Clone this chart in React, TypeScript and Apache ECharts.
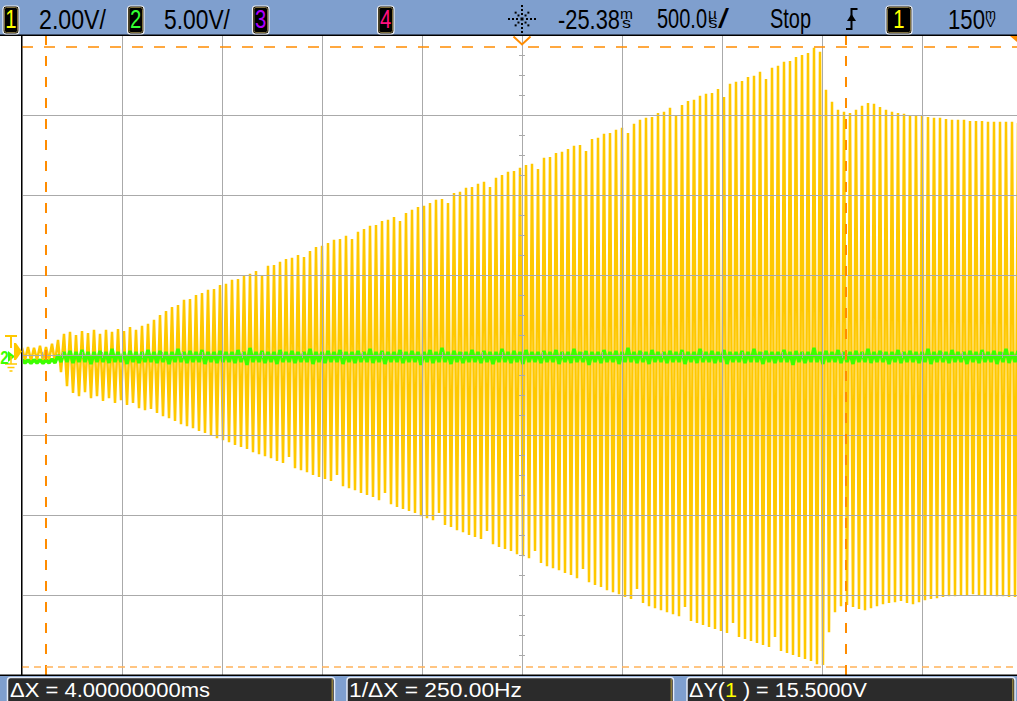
import React, { useEffect, useRef } from "react";
import * as echarts from "echarts";

// ---------------- data ----------------
// Channel 1 (2 V/div): one oscillation per sample step, peak (high) and trough (low) in volts
const ch1StartMs = -2.5;
const ch1StepMs = 0.03;
const ch1High = [
  0.18, 0.2, 0.18, 0.23, 0.2, 0.28, 0.38, 0.53, 0.58, 0.5,
  0.6, 0.55, 0.63, 0.53, 0.63, 0.58, 0.65, 0.6, 0.7, 0.63,
  0.73, 0.78, 0.88, 1.0, 1.1, 1.2, 1.25, 1.38, 1.4, 1.5,
  1.55, 1.63, 1.65, 1.75, 1.78, 1.88, 1.9, 1.98, 2.03, 2.1,
  2.0, 2.23, 2.25, 2.33, 2.4, 2.43, 2.5, 2.45, 2.6, 2.7,
  2.73, 2.8, 2.88, 2.9, 2.98, 2.9, 3.08, 3.15, 3.23, 3.25,
  3.35, 3.38, 3.45, 3.35, 3.55, 3.63, 3.7, 3.73, 3.8, 3.88,
  3.9, 3.8, 4.05, 4.08, 4.18, 4.2, 4.28, 4.33, 4.2, 4.43,
  4.5, 4.58, 4.6, 4.68, 4.75, 4.78, 4.65, 4.93, 4.95, 5.05,
  5.08, 5.15, 5.23, 5.25, 5.1, 5.4, 5.43, 5.53, 5.55, 5.63,
  5.68, 5.55, 5.78, 5.88, 5.93, 5.95, 6.05, 6.08, 6.18, 6.0,
  6.25, 6.35, 6.38, 6.48, 6.53, 6.55, 6.65, 6.45, 6.78, 6.83,
  6.85, 6.95, 6.98, 7.08, 6.9, 7.18, 7.23, 7.33, 7.35, 7.45,
  7.5, 7.55, 7.68, 7.58, 6.63, 6.33, 6.13, 6.08, 6.05, 6.13,
  6.23, 6.3, 6.28, 6.2, 6.13, 6.08, 6.05, 6.03, 6.0, 5.98,
  5.98, 5.95, 5.93, 5.93, 5.9, 5.88, 5.88, 5.88, 5.85, 5.85,
  5.85, 5.83, 5.83, 5.83, 5.83, 5.83, 5.8,
];
const ch1Low = [
  -0.13, -0.15, -0.13, -0.15, -0.13, -0.2, -0.43, -0.78, -0.95, -1.03,
  -0.93, -1.08, -1.03, -1.15, -1.08, -1.2, -1.13, -1.25, -1.2, -1.33,
  -1.38, -1.35, -1.45, -1.53, -1.58, -1.65, -1.73, -1.78, -1.83, -1.9,
  -1.95, -2.0, -2.08, -2.13, -2.18, -2.25, -2.3, -2.35, -2.43, -2.48,
  -2.53, -2.58, -2.65, -2.7, -2.55, -2.83, -2.88, -2.93, -3.0, -3.05,
  -3.1, -3.15, -3.0, -3.28, -3.33, -3.38, -3.45, -3.5, -3.55, -3.63,
  -3.45, -3.73, -3.8, -3.85, -3.9, -3.95, -4.03, -4.08, -4.13, -3.95,
  -4.25, -4.3, -4.38, -4.43, -4.5, -4.55, -4.6, -4.4, -4.73, -4.8,
  -4.85, -4.9, -4.98, -5.03, -5.08, -4.9, -5.2, -5.28, -5.33, -5.38,
  -5.45, -5.5, -5.58, -5.35, -5.68, -5.75, -5.8, -5.88, -5.93, -5.98,
  -6.05, -6.1, -5.85, -6.2, -6.28, -6.33, -6.38, -6.43, -6.48, -6.53,
  -6.3, -6.65, -6.7, -6.75, -6.8, -6.85, -6.9, -6.95, -6.7, -7.05,
  -7.1, -7.15, -7.2, -7.25, -7.3, -7.05, -7.4, -7.45, -7.5, -7.55,
  -7.6, -7.65, -7.73, -7.75, -6.93, -6.43, -6.28, -6.25, -6.3, -6.35,
  -6.38, -6.33, -6.28, -6.23, -6.2, -6.18, -6.15, -6.2, -6.23, -6.18,
  -6.13, -6.1, -6.08, -6.05, -6.03, -6.03, -6.0, -6.0, -5.98, -6.0,
  -6.0, -6.0, -6.03, -6.03, -6.05, -6.05, -6.05,
];

// Channel 2 (5 V/div): flat noisy trace
const ch2StartMs = -2.5;
const ch2StepMs = 0.03;
const ch2High = [
  -0.3, -0.31, -0.3, -0.3, -0.31, -0.25, 0.0, 0.19, 0.25, 0.19,
  0.31, 0.19, 0.19, 0.25, 0.19, 0.38, 0.19, 0.19, 0.25, 0.19,
  0.19, 0.31, 0.19, 0.25, 0.19, 0.19, 0.38, 0.19, 0.25, 0.19,
  0.31, 0.19, 0.19, 0.25, 0.19, 0.19, 0.31, 0.19, 0.44, 0.19,
  0.25, 0.19, 0.19, 0.31, 0.19, 0.25, 0.19, 0.19, 0.38, 0.19,
  0.19, 0.25, 0.19, 0.31, 0.19, 0.19, 0.25, 0.19, 0.38, 0.19,
  0.25, 0.19, 0.19, 0.31, 0.19, 0.25, 0.19, 0.19, 0.31, 0.19,
  0.44, 0.19, 0.25, 0.19, 0.19, 0.31, 0.19, 0.25, 0.19, 0.19,
  0.38, 0.19, 0.25, 0.19, 0.31, 0.19, 0.19, 0.25, 0.19, 0.31,
  0.19, 0.19, 0.38, 0.19, 0.25, 0.19, 0.19, 0.31, 0.19, 0.25,
  0.19, 0.44, 0.19, 0.25, 0.19, 0.31, 0.19, 0.19, 0.25, 0.19,
  0.31, 0.19, 0.19, 0.38, 0.19, 0.25, 0.19, 0.31, 0.19, 0.19,
  0.25, 0.19, 0.38, 0.19, 0.25, 0.19, 0.19, 0.31, 0.19, 0.25,
  0.19, 0.19, 0.44, 0.19, 0.25, 0.19, 0.31, 0.19, 0.19, 0.25,
  0.19, 0.38, 0.19, 0.25, 0.19, 0.19, 0.31, 0.19, 0.25, 0.19,
  0.19, 0.38, 0.19, 0.25, 0.19, 0.31, 0.19, 0.19, 0.25, 0.19,
  0.31, 0.19, 0.25, 0.19, 0.38, 0.19, 0.25,
];
const ch2Low = [
  -0.5, -0.52, -0.5, -0.52, -0.5, -0.5, -0.44, -0.44, -0.5, -0.44,
  -0.44, -0.56, -0.44, -0.44, -0.5, -0.44, -0.44, -0.56, -0.44, -0.5,
  -0.44, -0.44, -0.5, -0.44, -0.56, -0.44, -0.44, -0.5, -0.44, -0.44,
  -0.56, -0.44, -0.5, -0.44, -0.44, -0.5, -0.44, -0.62, -0.44, -0.44,
  -0.5, -0.44, -0.56, -0.44, -0.44, -0.5, -0.44, -0.44, -0.56, -0.44,
  -0.5, -0.44, -0.44, -0.56, -0.44, -0.5, -0.44, -0.44, -0.5, -0.44,
  -0.56, -0.44, -0.44, -0.5, -0.44, -0.44, -0.62, -0.44, -0.5, -0.44,
  -0.44, -0.56, -0.44, -0.5, -0.44, -0.44, -0.5, -0.44, -0.56, -0.44,
  -0.44, -0.5, -0.44, -0.56, -0.44, -0.44, -0.5, -0.44, -0.44, -0.56,
  -0.44, -0.5, -0.44, -0.44, -0.62, -0.44, -0.5, -0.44, -0.44, -0.56,
  -0.44, -0.44, -0.5, -0.44, -0.56, -0.44, -0.44, -0.5, -0.44, -0.44,
  -0.56, -0.44, -0.5, -0.44, -0.44, -0.5, -0.44, -0.56, -0.44, -0.44,
  -0.5, -0.44, -0.44, -0.56, -0.44, -0.5, -0.44, -0.44, -0.62, -0.44,
  -0.5, -0.44, -0.44, -0.56, -0.44, -0.44, -0.5, -0.44, -0.56, -0.44,
  -0.44, -0.5, -0.44, -0.44, -0.56, -0.44, -0.5, -0.44, -0.44, -0.5,
  -0.44, -0.56, -0.44, -0.44, -0.5, -0.44, -0.44, -0.56, -0.44, -0.5,
  -0.44, -0.44, -0.56, -0.44, -0.5, -0.44, -0.44,
];

// Cursors
const cursorXms = [-2.38, 1.62];
const cursorYv = [7.7, -7.8];

// Status texts
const channelScales = ["2.00V/", "5.00V/"];
const delayValue = "-25.38";
const timebaseValue = "500.0";
const runState = "Stop";
const trigLevelValue = "150";
const measureX = "ΔX = 4.00000000ms";
const measureInvX = "1/ΔX = 250.00Hz";
const measureYParts = ["ΔY(", "1", " ) = 15.5000V"];

// ---------------- helpers ----------------
const FONT = '"Liberation Sans", Arial, sans-serif';
const YELLOW = "#ffc800";
const GREEN = "#3cff00";
const GRID = "#aaaaaa";
const BAR = "#7f9fce";

function zigzag(start: number, step: number, hi: number[], lo: number[]) {
  const out: number[][] = [];
  for (let i = 0; i < hi.length; i++) {
    const t = start + i * step;
    out.push([t, hi[i]]);
    out.push([t + step / 2, lo[i]]);
  }
  return out;
}

let mctx: CanvasRenderingContext2D | null = null;
function tw(text: string, size: number, weight = "normal") {
  if (!mctx) mctx = document.createElement("canvas").getContext("2d");
  mctx!.font = `${weight} ${size}px ${FONT}`;
  return mctx!.measureText(text).width;
}

type Part = { text: string; fill: string };
function fitRow(parts: Part[], left: number, y: number, width: number, size: number, weight = "normal") {
  const ws = parts.map((p) => tw(p.text, size, weight));
  const total = ws.reduce((a, b) => a + b, 0);
  const s = width / total;
  let x = left;
  return parts.map((p, k) => {
    const el = {
      type: "text",
      x,
      y,
      scaleX: s,
      z: 110,
      silent: true,
      style: {
        text: p.text, x: 0, y: 0, fill: p.fill, fontSize: size, fontFamily: FONT, fontWeight: weight,
        align: "left", verticalAlign: "middle",
      },
    };
    x += ws[k] * s;
    return el;
  });
}
function capText(text: string, left: number, capCenter: number, width: number, size: number, fill = "#000") {
  return fitRow([{ text, fill }], left, capCenter + 0.05 * size, width, size);
}
function lowText(text: string, left: number, xCenter: number, width: number, size: number, fill = "#000") {
  return fitRow([{ text, fill }], left, xCenter - 0.05 * size, width, size);
}

function chanBox(x: number, w: number, label: string, color: string) {
  return [
    { type: "rect", z: 105, silent: true, shape: { x, y: 6, width: w, height: 28, r: 3 }, style: { fill: "#000", stroke: "#f2f2f2", lineWidth: 1.2 } },
    { type: "rect", z: 106, silent: true, shape: { x: x + 1.5, y: 7.5, width: w - 3, height: 25, r: 2 }, style: { fill: "#000", stroke: "#7d6e3c", lineWidth: 1 } },
    {
      type: "text", z: 110, silent: true, x: x + w / 2, y: 19.5, scaleX: 0.78,
      style: { text: label, x: 0, y: 0, fill: color, fontSize: 26, fontFamily: FONT, align: "center", verticalAlign: "middle" },
    },
  ];
}

function measBox(x: number, w: number) {
  return [
    { type: "rect", z: 105, silent: true, shape: { x, y: 677.5, width: w, height: 30, r: 3 }, style: { fill: "#2b2b2b", stroke: "#e6ecf6", lineWidth: 1.5 } },
    { type: "rect", z: 106, silent: true, shape: { x: x + w - 3, y: 679, width: 1.5, height: 24 }, style: { fill: "#8a7a3a" } },
  ];
}

function buildGraphic() {
  const g: any[] = [];
  g.push({ type: "rect", z: 100, silent: true, shape: { x: 0, y: 0, width: 1017, height: 35 }, style: { fill: BAR } });
  g.push({ type: "rect", z: 101, silent: true, shape: { x: 0, y: 34.5, width: 1017, height: 1.5 }, style: { fill: "#000" } });
  g.push({ type: "rect", z: 100, silent: true, shape: { x: 0, y: 675, width: 1017, height: 26 }, style: { fill: BAR } });
  g.push({ type: "rect", z: 101, silent: true, shape: { x: 0, y: 674.5, width: 1017, height: 1.5 }, style: { fill: "#000" } });
  g.push({ type: "rect", z: 101, silent: true, shape: { x: 21, y: 35, width: 1.3, height: 640 }, style: { fill: "#000" } });

  g.push(...chanBox(3, 16, "1", "#ffff00"));
  g.push(...capText(channelScales[0], 39, 17.3, 67, 28));
  g.push(...chanBox(127.5, 16.5, "2", "#33ff33"));
  g.push(...capText(channelScales[1], 164, 17.3, 66, 28));
  g.push(...chanBox(252.5, 16.5, "3", "#b000ff"));
  g.push(...chanBox(377.5, 16.5, "4", "#ff1080"));

  const icx = 522, icy = 19;
  for (let k = 0; k < 8; k++) {
    const a = (k * Math.PI) / 4;
    const rs = k % 2 === 0 ? [5, 9, 13] : [5, 9];
    for (const r of rs) {
      g.push({
        type: "rect", z: 110, silent: true,
        shape: { x: icx + r * Math.cos(a) - 1, y: icy + r * Math.sin(a) - 1, width: 2, height: 2 },
        style: { fill: "#000" },
      });
    }
  }
  g.push({ type: "rect", z: 110, silent: true, shape: { x: icx - 1.5, y: icy - 1.5, width: 3, height: 3 }, style: { fill: "#000" } });

  g.push(...capText(delayValue, 558, 17.3, 62, 28));
  g.push(...lowText("m", 620, 14, 13, 15));
  g.push(...lowText("s", 622, 23.5, 9, 15));
  g.push(...capText(timebaseValue, 657, 17.3, 50, 28));
  g.push(...lowText("µ", 708, 14, 9, 15));
  g.push(...lowText("s", 708.5, 23.5, 9, 15));
  g.push(...capText("/", 718, 17.3, 11, 28));
  g.push(...capText(runState, 770, 17.3, 41, 28));
  g.push({ type: "polyline", z: 110, silent: true, shape: { points: [[846, 29], [851.5, 29], [851.5, 9], [857.5, 9]] }, style: { stroke: "#000", lineWidth: 2, fill: null } });
  g.push({ type: "polygon", z: 110, silent: true, shape: { points: [[847, 21], [851.5, 14], [856, 21]] }, style: { fill: "#000" } });
  g.push(...chanBox(886, 26, "1", "#ffff00"));
  g.push(...capText(trigLevelValue, 948, 17.3, 37, 28));
  g.push(...lowText("m", 985, 14, 11, 15));
  g.push(...capText("V", 986, 23, 9, 11));

  const mSize = 21;
  const mY = 688.8;
  g.push(...measBox(7.5, 327));
  g.push(...capText(measureX, 10, mY, 200, mSize, "#ffffff"));
  g.push(...measBox(347, 326.5));
  g.push(...capText(measureInvX, 349, mY, 173, mSize, "#ffffff"));
  g.push(...measBox(687, 328));
  g.push(
    ...fitRow(
      [
        { text: measureYParts[0], fill: "#ffffff" },
        { text: measureYParts[1], fill: "#ffff00" },
        { text: measureYParts[2], fill: "#ffffff" },
      ],
      689, mY + 0.05 * mSize, 178, mSize
    )
  );

  g.push({ type: "polyline", z: 110, silent: true, shape: { points: [[5, 336], [17, 336]] }, style: { stroke: YELLOW, lineWidth: 2 } });
  g.push({ type: "polyline", z: 110, silent: true, shape: { points: [[11, 336], [11, 348]] }, style: { stroke: YELLOW, lineWidth: 2 } });
  g.push({ type: "polygon", z: 109, silent: true, shape: { points: [[8, 351], [15, 356.5], [8, 362]] }, style: { fill: GREEN } });
  g.push({ type: "polygon", z: 110, silent: true, shape: { points: [[14, 343], [16, 343], [22, 351.5], [16, 360], [14, 360]] }, style: { fill: YELLOW } });
  g.push({
    type: "text", z: 111, silent: true, x: 4.5, y: 357, scaleX: 0.8,
    style: { text: "2", x: 0, y: 0, fill: GREEN, fontSize: 19, fontWeight: "bold", fontFamily: FONT, align: "center", verticalAlign: "middle" },
  });
  g.push({ type: "polyline", z: 110, silent: true, shape: { points: [[11, 356], [11, 364]] }, style: { stroke: YELLOW, lineWidth: 1.5 } });
  g.push({ type: "polyline", z: 110, silent: true, shape: { points: [[5, 364], [17, 364]] }, style: { stroke: YELLOW, lineWidth: 1.5 } });
  g.push({ type: "polyline", z: 110, silent: true, shape: { points: [[7.5, 367.5], [14.5, 367.5]] }, style: { stroke: YELLOW, lineWidth: 1.5 } });
  g.push({ type: "polyline", z: 110, silent: true, shape: { points: [[9.5, 371], [12.5, 371]] }, style: { stroke: YELLOW, lineWidth: 1.5 } });

  g.push({ type: "polyline", z: 110, silent: true, shape: { points: [[513.5, 36.5], [522, 44.5], [530.5, 36.5]] }, style: { stroke: "#ff8c00", lineWidth: 2, fill: null } });
  g.push({ type: "polygon", z: 110, silent: true, shape: { points: [[1010, 36], [1017, 36], [1017, 42]] }, style: { fill: "#ff8c00" } });
  return g;
}

function buildOption() {
  const axisCommon = {
    type: "value",
    z: 4,
    axisLabel: { show: false },
    axisLine: { show: true, onZero: true, lineStyle: { color: GRID, width: 1 } },
    axisTick: { show: true, inside: false, length: 3, lineStyle: { color: GRID, width: 1 } },
  };
  return {
    animation: false,
    backgroundColor: "#ffffff",
    grid: { left: 22, top: 35, width: 1000, height: 640, show: false, containLabel: false, outerBoundsMode: "none" },
    xAxis: [
      {
        ...axisCommon, min: -2.5, max: 2.5, interval: 0.5, position: "bottom",
        minorTick: { show: true, splitNumber: 5, length: 3, lineStyle: { color: GRID, width: 1 } },
        splitLine: { show: true, lineStyle: { color: GRID, width: 1 } },
      },
      {
        ...axisCommon, min: -2.5, max: 2.5, interval: 0.5, position: "top",
        minorTick: { show: true, splitNumber: 5, length: 3, lineStyle: { color: GRID, width: 1 } },
        splitLine: { show: false },
      },
    ],
    yAxis: [
      {
        ...axisCommon, min: -8, max: 8, interval: 2, position: "left",
        minorTick: { show: true, splitNumber: 4, length: 3, lineStyle: { color: GRID, width: 1 } },
        splitLine: { show: true, lineStyle: { color: GRID, width: 1 } },
      },
      {
        ...axisCommon, min: -20, max: 20, interval: 5, position: "right",
        minorTick: { show: true, splitNumber: 4, length: 3, lineStyle: { color: GRID, width: 1 } },
        splitLine: { show: false },
      },
    ],
    series: [
      {
        name: "CH1", type: "line", xAxisIndex: 0, yAxisIndex: 0, z: 2, silent: true,
        data: zigzag(ch1StartMs, ch1StepMs, ch1High, ch1Low),
        showSymbol: false, symbol: "none", smooth: false,
        lineStyle: { color: YELLOW, width: 2.5, join: "bevel", cap: "butt" },
        emphasis: { disabled: true },
      },
      {
        name: "CH2", type: "line", xAxisIndex: 0, yAxisIndex: 1, z: 3, silent: true,
        data: zigzag(ch2StartMs, ch2StepMs, ch2High, ch2Low),
        showSymbol: false, symbol: "none", smooth: false,
        lineStyle: { color: GREEN, width: 3.5, join: "bevel", cap: "butt" },
        emphasis: { disabled: true },
      },
      {
        name: "Cursors", type: "line", xAxisIndex: 0, yAxisIndex: 0, z: 6, silent: true, data: [],
        markLine: {
          silent: true, animation: false, symbol: ["none", "none"], label: { show: false },
          emphasis: { disabled: true },
          data: [
            { xAxis: cursorXms[0], lineStyle: { color: "#ff8c00", type: [10, 11], width: 2 } },
            { xAxis: cursorXms[1], lineStyle: { color: "#ff8c00", type: [10, 11], width: 2 } },
            { yAxis: cursorYv[0], lineStyle: { color: "#ff8c00", type: [11, 11], width: 1.5 } },
            { yAxis: cursorYv[1], lineStyle: { color: "#ffb25a", type: [7, 5], width: 1.5 } },
          ],
        },
      },
    ],
    graphic: { elements: buildGraphic() },
  };
}

export default function App() {
  const ref = useRef<HTMLDivElement>(null);
  useEffect(() => {
    const chart = echarts.init(ref.current!, undefined, { renderer: "svg" });
    chart.setOption(buildOption() as any);
    return () => chart.dispose();
  }, []);
  return <div ref={ref} style={{ position: "fixed", left: 0, top: 0, width: 1017, height: 701 }} />;
}
